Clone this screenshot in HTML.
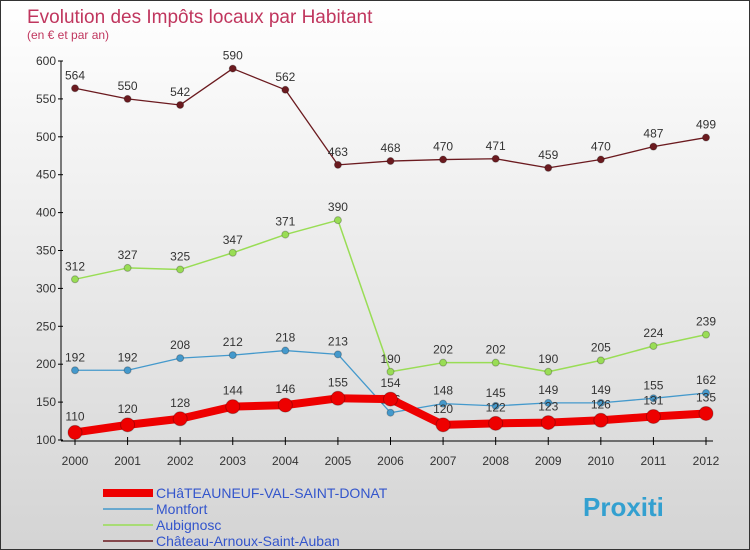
<!DOCTYPE html>
<html><head><meta charset="utf-8"><style>
body{margin:0}
#c{width:750px;height:550px;position:relative;box-sizing:border-box;border:1px solid #333;background:linear-gradient(#ffffff,#d4d4d4);font-family:"Liberation Sans",sans-serif;overflow:hidden}
</style></head><body>
<div id="c">
<svg id="s" width="748" height="548"></svg>
</div>
<script>
const years=[2000,2001,2002,2003,2004,2005,2006,2007,2008,2009,2010,2011,2012];
const yTicks=[100,150,200,250,300,350,400,450,500,550,600];
const chateauneuf=[110,120,128,144,146,155,154,120,122,123,126,131,135];
const montfort=[192,192,208,212,218,213,136,148,145,149,149,155,162];
const aubignosc=[312,327,325,347,371,390,190,202,202,190,205,224,239];
const chateauArnoux=[564,550,542,590,562,463,468,470,471,459,470,487,499];
const seriesNames=["CHâTEAUNEUF-VAL-SAINT-DONAT","Montfort","Aubignosc","Château-Arnoux-Saint-Auban"];
const NS="http://www.w3.org/2000/svg";
const s=document.getElementById('s');
function X(i){return 74+i*(705-74)/(years.length-1);}
function Y(v){return 439-(v-100)*(439-60)/500;}
function el(t,a,txt){const e=document.createElementNS(NS,t);for(const k in a)e.setAttribute(k,a[k]);if(txt!==undefined)e.textContent=txt;s.appendChild(e);return e;}
let e;
e=el('text',{x:26,y:22,fill:'#c0365e','font-size':19},'Evolution des Impôts locaux par Habitant');

e=el('text',{x:26,y:38,fill:'#c0365e','font-size':12},'(en € et par an)');

e=el('line',{x1:60,y1:Y(600),x2:60,y2:Y(100),stroke:'#000'});

yTicks.forEach(v=>{el('line',{x1:57,y1:Y(v),x2:62,y2:Y(v),stroke:'#000'});
 e=el('text',{x:55,y:Y(v)+4,'text-anchor':'end','font-size':12,fill:'#333'},v);
 });
e=el('line',{x1:60,y1:440,x2:712,y2:440,stroke:'#000'});

years.forEach((y,i)=>{el('line',{x1:X(i),y1:436,x2:X(i),y2:444,stroke:'#000'});
 e=el('text',{x:X(i),y:464,'text-anchor':'middle','font-size':12,fill:'#333'},y);
 });
function series(vals,color,w,r,name,off){
 e=el('polyline',{points:vals.map((v,i)=>X(i)+','+Y(v)).join(' '),fill:'none',stroke:color,'stroke-width':w,'stroke-linejoin':'round'});
 
 vals.forEach((v,i)=>{e=el('circle',{cx:X(i),cy:Y(v),r:r,fill:color,stroke:'rgba(0,0,0,0.25)'});
  
  e=el('text',{x:X(i),y:Y(v)-off,'text-anchor':'middle','font-size':12,fill:'#333'},v);
  });
}
series(chateauArnoux,'#6b1a1f',1.3,3.5,'chateau-arnoux',9);
series(aubignosc,'#99dd55',1.5,3.5,'aubignosc',9);
series(montfort,'#4499cc',1.3,3.5,'montfort',9);
series(chateauneuf,'#ee0000',8,7,'chateauneuf',12);
const lc=['#ee0000','#4499cc','#99dd55','#6b1a1f'],lw=[8,1.5,1.5,1.5];
seriesNames.forEach((n,i)=>{const y=492+i*16;
 e=el('line',{x1:102,y1:y,x2:152,y2:y,stroke:lc[i],'stroke-width':lw[i]});
 
 e=el('text',{x:155,y:y+5,'font-size':14,fill:'#3355cc'},n);
 });
e=el('text',{x:582,y:515,'font-size':26,'font-weight':'bold',fill:'#33a0d0'},'Proxiti');

</script>
</body></html>
